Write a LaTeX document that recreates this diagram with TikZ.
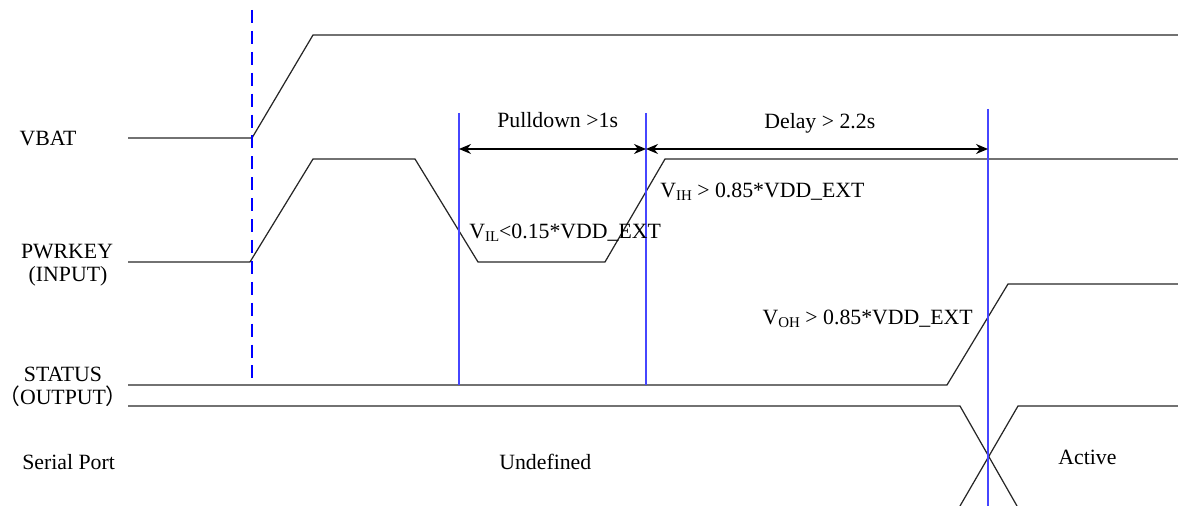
\documentclass[tikz,border=0pt]{standalone}
\usepackage{fontspec}
\setmainfont{Liberation Serif}
\newfontfamily\cjk{Noto Sans CJK SC}
\usetikzlibrary{arrows.meta,positioning,calc}

\definecolor{markblue}{RGB}{70,70,255}
\newcommand{\lowsub}[1]{\raisebox{-1.6pt}{\fontsize{8.5}{9}\selectfont #1}}

\tikzset{
    wave/.style={draw=black!85, line width=0.7pt, line join=miter},
    marker/.style={draw=markblue, line width=0.8pt},
    powerup/.style={draw=blue, line width=1.4pt, dash pattern=on 7.4pt off 4.5pt},
    lbl/.style={inner sep=0pt, font=\fontsize{12.4}{14}\selectfont},
    span/.style={{Stealth[length=2.4mm,width=2mm]}-{Stealth[length=2.4mm,width=2mm]}, line width=0.7pt},
}

\begin{document}
\begin{tikzpicture}[x=0.02cm, y=-0.02cm]

    % Page frame
    \useasboundingbox (0,0) rectangle (1178,506);

    % Signal names
    \node[lbl, anchor=base] (vbatname) at (48,146) {VBAT};
    \node[lbl, anchor=base] (keyname) at (67,259) {PWRKEY};
    \node[lbl, anchor=base] (keyio) at (68,282) {(INPUT)};
    \node[lbl, anchor=base] (statname) at (63,382) {STATUS};
    \node[lbl, anchor=base] (statio) at (63,405) {{\cjk （}OUTPUT{\cjk ）}};
    \node[lbl, anchor=base west] (portname) at (22,470) {Serial Port};

    % VBAT
    \draw[wave] (128,138) -- (252,138) -- (313,35) -- (1178,35);

    % PWRKEY
    \draw[wave] (128,262) -- (250,262) -- (313,159) -- (415,159)
        -- (478,262) -- (605,262) -- (665,159) -- (1178,159);

    % STATUS
    \draw[wave] (128,385) -- (947,385) -- (1008,284) -- (1178,284);

    % Serial port
    \draw[wave] (128,406) -- (960,406) -- (1017,506);
    \draw[wave] (960,506) -- (1018,406) -- (1178,406);

    % Timing markers
    \coordinate (pd1) at (459,113);
    \coordinate (pd2) at (646,113);
    \coordinate (act) at (988,109);
    \draw[marker] (pd1) -- (459,385);
    \draw[marker] (pd2) -- (646,385);
    \draw[marker] (act) -- (988,506);

    % Power-on instant
    \draw[powerup] (252,10) -- (252,380);

    % Intervals
    \coordinate (a1) at (459,149);
    \coordinate (a2) at (646,149);
    \coordinate (a3) at (988,149);
    \draw[span] (a1) -- (a2);
    \draw[span] (a2) -- (a3);
    \node[lbl, anchor=base west] (pulldown) at (497,128) {Pulldown >1s};
    \node[lbl, anchor=base west] (delay) at (764,129) {Delay > 2.2s};

    % Thresholds
    \node[lbl, anchor=base west] (vil) at (469,239) {V\lowsub{IL}<0.15*VDD\_EXT};
    \node[lbl, anchor=base west] (vih) at (660,198) {V\lowsub{IH} > 0.85*VDD\_EXT};
    \node[lbl, anchor=base east] (voh) at (973,325) {V\lowsub{OH} > 0.85*VDD\_EXT};

    % Port states
    \node[lbl, anchor=base west] (undef) at (499,470) {Undefined};
    \node[lbl, anchor=base west] (active) at (1058,465) {Active};

\end{tikzpicture}
\end{document}
